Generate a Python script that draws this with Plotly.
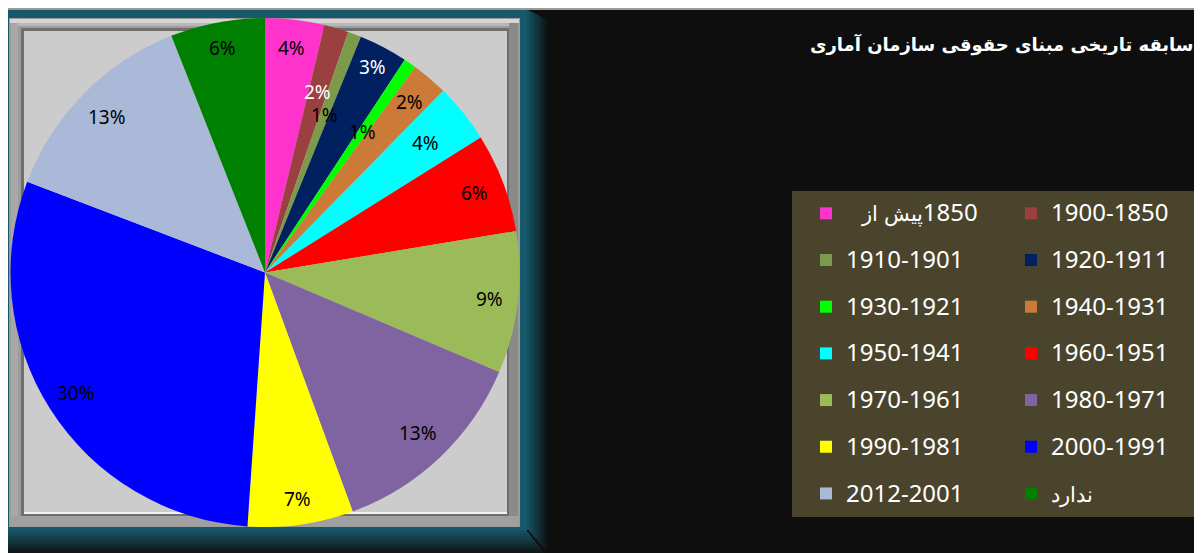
import math
import plotly.graph_objects as go

# ---------------- data ----------------
periods = ["پیش از\u200e1850", "1900-1850", "1910-1901", "1920-1911",
           "1930-1921", "1940-1931", "1950-1941", "1960-1951", "1970-1961",
           "1980-1971", "1990-1981", "2000-1991", "2012-2001", "ندارد"]
shares = [3.75, 1.55, 0.85, 3.1, 0.8, 2.3, 3.75, 6.3, 9.0, 13.0, 6.7, 29.7, 13.2, 6.0]
title_text = "سابقه تاریخی مبنای حقوقی سازمان آماری"

# ---------------- styles ----------------
slice_colors = ["#ff33cc", "#9b4040", "#7b9a4a", "#002060", "#00ff00", "#cc7a38",
                "#00ffff", "#ff0000", "#9bbb59", "#8064a2", "#ffff00", "#0000ff",
                "#a9b9d7", "#008000"]
label_colors = ["black", "white", "black", "white", "black", "black", "black",
                "black", "black", "black", "black", "black", "black", "black"]
label_radius = [0.89, 0.74, 0.66, 0.91, 0.67, 0.88, 0.81, 0.88, 0.89, 0.87,
                0.90, 0.88, 0.87, 0.90]

W, H = 1202, 553
PLOT_W = 790   # plot area width (right margin holds legend)
OFF = 8        # page offset of the figure inside the screenshot


def px(x):
    return (x - OFF) / PLOT_W


def py(y):
    return 1 - (y - OFF) / H


# pie geometry (screen pixels)
PX0, PX1, PY0, PY1 = 10, 520, 18, 527
CX, CY = (PX0 + PX1) / 2, (PY0 + PY1) / 2
R = min(PX1 - PX0, PY1 - PY0) / 2


def legend_label(s):
    persian = any('\u0600' <= ch <= '\u06ff' for ch in s)
    if persian:
        lead = "\u00a0\u00a0\u00a0" if any(ch.isdigit() for ch in s) else ""
        return (f'<span style="font-size:21px;baseline-shift:5px">{lead}'
                f'{s.replace("1850", "<span style=\"font-size:24px\">1850</span>")}</span>')
    return f'<span style="font-size:24px;baseline-shift:5px">{s}</span>'


fig = go.Figure()
fig.add_trace(go.Pie(
    labels=[legend_label(p) for p in periods], values=shares, sort=False,
    direction="clockwise", rotation=0,
    marker=dict(colors=slice_colors, line=dict(width=0)),
    textinfo="none", hoverinfo="label+percent",
    domain=dict(x=[px(PX0), px(PX1)], y=[py(PY1), py(PY0)]),
    showlegend=True,
))

# percentage labels placed at mid-angle of each slice
total = sum(shares)
annotations = []
cum = 0.0
for v, col, rf in zip(shares, label_colors, label_radius):
    mid = (cum + v / 2) / total
    cum += v
    th = 2 * math.pi * mid
    x = CX + rf * R * math.sin(th)
    y = CY - rf * R * math.cos(th)
    annotations.append(dict(
        x=px(x), y=py(y), xref="paper", yref="paper", showarrow=False,
        text=f"{round(v / total * 100)}%",
        font=dict(family="Noto Sans", size=19, color=col),
        xanchor="center", yanchor="middle"))

annotations.append(dict(
    x=px(1196), y=py(45), xref="paper", yref="paper", showarrow=False,
    text=f"<b>{title_text}</b>", xanchor="right", yanchor="middle",
    font=dict(family="DejaVu Sans", size=18, color="white")))

# ---------------- decorative frame shapes ----------------
shapes = []


def rect(x0, y0, x1, y1, color):
    shapes.append(dict(type="rect", xref="paper", yref="paper",
                       x0=px(x0), x1=px(x1), y0=py(y1), y1=py(y0),
                       fillcolor=color, line=dict(width=0), layer="below"))


def mix(c1, c2, t):
    a = [int(c1[i:i + 2], 16) for i in (1, 3, 5)]
    b = [int(c2[i:i + 2], 16) for i in (1, 3, 5)]
    return "rgb(%d,%d,%d)" % tuple(round(a[k] + (b[k] - a[k]) * t) for k in range(3))


BG = "#0e0e0e"
TEAL = "#17586a"
rect(8, 8, W + 8, 10, "#9a9a9a")
# teal frame with fading shadow to the right and bottom
rect(8, 10, 527, 530, TEAL)
for i in range(10):
    t = (i + 1) / 11
    rect(527 + i * 2, 10 + i * 1, 529 + i * 2, 530 + i * 2.3, mix(TEAL, BG, t))
for i in range(12):
    t = (i + 1) / 13
    rect(8, 530 + i * 2, 527 + i * 1.6, 532 + i * 2, mix(TEAL, BG, t))
# silver bevel frame
rect(9, 18, 520, 527, "#9c9c9c")
rect(10, 19, 519, 23, "#d6d6d6")
rect(11, 23, 516, 26, "#b8b8b8")
rect(11, 23, 18, 524, "#a8a8a8")
rect(509, 23, 518, 524, "#8a8a8a")
rect(11, 516, 518, 526, "#a0a0a0")
rect(21, 28, 509, 516, "#6e6e6e")
rect(24, 31, 507, 514, "#f2f2f2")
rect(24, 31, 507, 512, "#cccccc")
# legend background
rect(792, 191, 1196, 517, "#4a442d")

fig.update_layout(
    width=W, height=H,
    margin=dict(l=0, r=W - PLOT_W, t=0, b=0, autoexpand=False),
    paper_bgcolor=BG, plot_bgcolor=BG,
    shapes=shapes, annotations=annotations,
    legend=dict(orientation="h", x=px(806), xanchor="left", y=py(185), yanchor="top",
                bgcolor="rgba(0,0,0,0)", entrywidth=160, entrywidthmode="pixels",
                font=dict(family="Noto Sans", size=33.6, color="white"),
                traceorder="normal", maxheight=1),
)

fig.write_html("out.html")
